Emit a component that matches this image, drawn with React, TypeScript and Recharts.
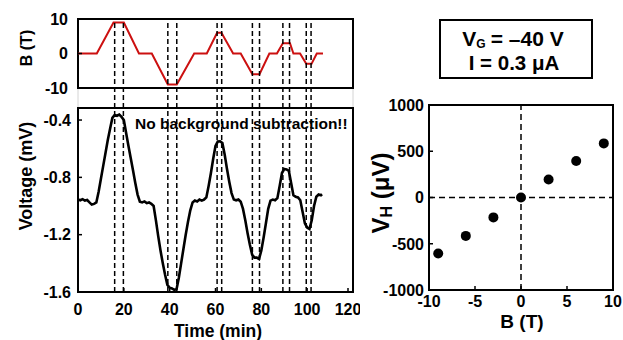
import React from "react";
import {
  LineChart,
  Line,
  XAxis,
  YAxis,
  ReferenceArea,
  ReferenceLine,
  ScatterChart,
  Scatter,
} from "recharts";

const FONT = '"Liberation Sans", Arial, Helvetica, sans-serif';

// magnetic field sweep (time in min, B in T)
const sweepTime = [0, 8.2, 15.5, 20, 26.6, 32.2, 39.2, 43.1, 50.7, 56.2, 60.7, 62.6, 67.7, 71, 76.1, 79.2, 83.5, 86.8, 89.4, 92.5, 94, 96.9, 99.6, 101.9, 104.2, 106.9];
const sweepField = [0, 0, 9, 9, 0, 0, -9, -9, 0, 0, 6, 6, 0, 0, -6, -6, 0, 0, 3, 3, 0, 0, -3, -3, 0, 0];

// measured voltage trace (mV)
const traceTime = [
  0, 1, 2, 3, 4, 5, 6, 7, 8, 9, 10, 11, 12, 13, 14, 15, 16, 17, 18, 19,
  20, 21, 22, 23, 24, 25, 26, 27, 28, 29, 30, 31, 32, 33, 34, 35, 36, 37, 38, 39,
  40, 41, 42, 43, 44, 45, 46, 47, 48, 49, 50, 51, 52, 53, 54, 55, 56, 57, 58, 59,
  60, 61, 62, 63, 64, 65, 66, 67, 68, 69, 70, 71, 72, 73, 74, 75, 76, 77, 78, 79,
  80, 81, 82, 83, 84, 85, 86, 87, 88, 89, 90, 91, 92, 93, 94, 95, 96, 97, 98, 99,
  100, 101, 102, 103, 104, 105, 106, 106.5,
];
const traceVoltage = [
  -0.955, -0.96, -0.952, -0.962, -0.958, -0.975, -0.99, -0.985, -0.975, -0.9,
  -0.81, -0.72, -0.63, -0.54, -0.46, -0.385, -0.365, -0.37, -0.362, -0.378,
  -0.4, -0.49, -0.58, -0.665, -0.75, -0.84, -0.92, -0.97, -0.975, -0.968,
  -0.98, -0.975, -0.985, -1.0, -1.1, -1.21, -1.31, -1.4, -1.48, -1.55,
  -1.57, -1.575, -1.585, -1.58, -1.5, -1.4, -1.3, -1.2, -1.11, -1.03,
  -0.975, -0.962, -0.968, -0.955, -0.962, -0.955, -0.94, -0.86, -0.77, -0.67,
  -0.58, -0.55, -0.548, -0.56, -0.64, -0.74, -0.83, -0.91, -0.955, -0.96,
  -0.955, -0.97, -1.02, -1.1, -1.19, -1.27, -1.34, -1.36, -1.36, -1.37,
  -1.31, -1.22, -1.12, -1.02, -0.962, -0.955, -0.96, -0.945, -0.86, -0.77,
  -0.742, -0.745, -0.755, -0.84, -0.925, -0.935, -0.94, -0.96, -1.04, -1.12,
  -1.15, -1.16, -1.1, -1.0, -0.935, -0.92, -0.925, -0.918,
];

// edges of each field plateau
const plateauEdges = [16, 19.8, 39.2, 43.1, 60.7, 62.7, 76.1, 79.2, 89.4, 92.3, 99.6, 101.7];

// Hall voltage vs field
const hallField = [-9, -6, -3, 0, 3, 6, 9];
const hallVoltage = [-605, -415, -215, 0, 195, 395, 585];

const timeTicks = [0, 20, 40, 60, 80, 100, 120];
const fieldTicks = [-10, 0, 10];
const voltTicks = [-1.6, -1.2, -0.8, -0.4];
const hallXTicks = [-10, -5, 0, 5, 10];
const hallYTicks = [-1000, -500, 0, 500, 1000];

const sweepRows = sweepTime.map((t, i) => ({ t, b: sweepField[i] }));
const traceRows = traceTime.map((t, i) => ({ t, v: traceVoltage[i] }));
const hallRows = hallField.map((b, i) => ({ b, vh: hallVoltage[i] }));

const labelStyle = { fontFamily: FONT, fontWeight: "bold" as const, fill: "#000" };

// left-axis tick: label outside, short tick pointing into the plot
const leftTick = (gap: number, size: number) => (props: any) => {
  const { x, y, payload } = props;
  return (
    <g>
      <line x1={x + gap} x2={x + gap + 4} y1={y} y2={y} stroke="#000" strokeWidth={1.5} />
      <text x={x} y={y} dy="0.36em" textAnchor="end" fontSize={size} {...labelStyle}>
        {payload.value}
      </text>
    </g>
  );
};

const bottomTick = (gap: number, size: number) => (props: any) => {
  const { x, y, payload } = props;
  return (
    <g>
      <line x1={x} x2={x} y1={y - gap} y2={y - gap - 4} stroke="#000" strokeWidth={1.5} />
      <text x={x} y={y} dy="0.71em" textAnchor="middle" fontSize={size} {...labelStyle}>
        {payload.value}
      </text>
    </g>
  );
};

const box = (left: number, top: number): React.CSSProperties => ({
  position: "absolute",
  left,
  top,
});

export default function App() {
  return (
    <div
      style={{
        position: "absolute",
        left: 0,
        top: 0,
        width: 623,
        height: 340,
        background: "#fff",
        overflow: "hidden",
      }}
    >
      {/* B(t) sweep */}
      <div style={box(0, 0)}>
        <LineChart width={360} height={100} data={sweepRows} margin={{ top: 19, right: 7, bottom: 12, left: 0 }}>
          <XAxis dataKey="t" type="number" domain={[0, 120]} hide />
          <YAxis
            type="number"
            domain={[-10, 10]}
            ticks={fieldTicks}
            width={78}
            axisLine={false}
            tickLine={false}
            tickSize={0}
            tickMargin={10}
            tick={leftTick(10, 16)}
          />
          <Line dataKey="b" type="linear" stroke="#cc1010" strokeWidth={2} dot={false} isAnimationActive={false} />
          <ReferenceArea x1={0} x2={120} y1={-10} y2={10} fill="none" stroke="#000" strokeWidth={2} />
        </LineChart>
      </div>

      {/* voltage trace */}
      <div style={box(0, 100)}>
        <LineChart width={360} height={240} data={traceRows} margin={{ top: 8, right: 7, bottom: 0, left: 0 }}>
          <XAxis
            dataKey="t"
            type="number"
            domain={[0, 120]}
            ticks={timeTicks}
            height={48}
            axisLine={false}
            tickLine={false}
            tickSize={0}
            tickMargin={12}
            tick={bottomTick(12, 16)}
          />
          <YAxis
            type="number"
            domain={[-1.6, -0.316]}
            allowDataOverflow
            ticks={voltTicks}
            width={78}
            axisLine={false}
            tickLine={false}
            tickSize={0}
            tickMargin={7}
            tick={leftTick(7, 16)}
          />
          <Line dataKey="v" type="linear" stroke="#000" strokeWidth={2.6} dot={false} isAnimationActive={false} />
          <ReferenceArea x1={0} x2={120} y1={-1.6} y2={-0.316} fill="none" stroke="#000" strokeWidth={2} />
        </LineChart>
      </div>

      {/* dashed markers through both panels */}
      <div style={{ ...box(0, 0), pointerEvents: "none" }}>
        <LineChart width={360} height={300} data={sweepRows} margin={{ top: 19, right: 7, bottom: 8, left: 78 }}>
          <XAxis dataKey="t" type="number" domain={[0, 120]} hide />
          <YAxis type="number" domain={[-10, 10]} hide />
          <Line dataKey="b" stroke="none" dot={false} isAnimationActive={false} />
          {plateauEdges.map((t) => (
            <ReferenceLine key={t} x={t} stroke="#000" strokeWidth={1.5} strokeDasharray="5 3" />
          ))}
        </LineChart>
      </div>

      {/* Hall voltage vs field */}
      <div style={box(360, 90)}>
        <ScatterChart width={263} height={250} margin={{ top: 15, right: 10, bottom: 0, left: 0 }}>
          <XAxis
            dataKey="b"
            type="number"
            domain={[-10, 10]}
            ticks={hallXTicks}
            height={50}
            axisLine={false}
            tickLine={false}
            tickSize={0}
            tickMargin={6}
            tick={bottomTick(6, 16)}
          />
          <YAxis
            dataKey="vh"
            type="number"
            domain={[-1000, 1000]}
            ticks={hallYTicks}
            width={69}
            axisLine={false}
            tickLine={false}
            tickSize={0}
            tickMargin={5}
            tick={leftTick(5, 16)}
          />
          <ReferenceLine x={0} stroke="#000" strokeWidth={1.5} strokeDasharray="6 4" />
          <ReferenceLine y={0} stroke="#000" strokeWidth={1.5} strokeDasharray="6 4" />
          <Scatter
            data={hallRows}
            isAnimationActive={false}
            shape={(p: any) => <circle cx={p.cx} cy={p.cy} r={5} fill="#000" />}
          />
          <ReferenceArea x1={-10} x2={10} y1={-1000} y2={1000} fill="none" stroke="#000" strokeWidth={2} />
        </ScatterChart>
      </div>

      {/* titles and annotations */}
      <svg width={623} height={340} style={{ position: "absolute", left: 0, top: 0, pointerEvents: "none" }}>
        <line x1={78} x2={78} y1={89} y2={107} stroke="#d4d4d4" strokeWidth={1} />
        <line x1={353} x2={353} y1={89} y2={107} stroke="#d4d4d4" strokeWidth={1} />

        <text transform="translate(32,48) rotate(-90)" textAnchor="middle" fontSize={16} {...labelStyle}>
          B (T)
        </text>
        <text transform="translate(32,176) rotate(-90)" textAnchor="middle" fontSize={18} {...labelStyle}>
          Voltage (mV)
        </text>
        <text x={218} y={337} textAnchor="middle" fontSize={17.5} {...labelStyle}>
          Time (min)
        </text>
        <text x={135} y={129} fontSize={15.5} {...labelStyle}>
          No background subtraction!!
        </text>

        <text x={522} y={328} textAnchor="middle" fontSize={19} {...labelStyle}>
          B (T)
        </text>
        <text transform="translate(389,193) rotate(-90)" textAnchor="middle" fontSize={24} {...labelStyle}>
          V
          <tspan fontSize={16} dy={3}>H</tspan>
          <tspan dy={-3}> (μV)</tspan>
        </text>

        <rect x={440} y={20} width={152} height={58} fill="#fff" stroke="#000" strokeWidth={2} />
        <text x={513} y={46} textAnchor="middle" fontSize={21} {...labelStyle}>
          V
          <tspan fontSize={12} dy={2}>G</tspan>
          <tspan dy={-2} dx={5}>= –40 V</tspan>
        </text>
        <text x={514} y={69.5} textAnchor="middle" fontSize={20.5} {...labelStyle}>
          I = 0.3 μA
        </text>
      </svg>
    </div>
  );
}
